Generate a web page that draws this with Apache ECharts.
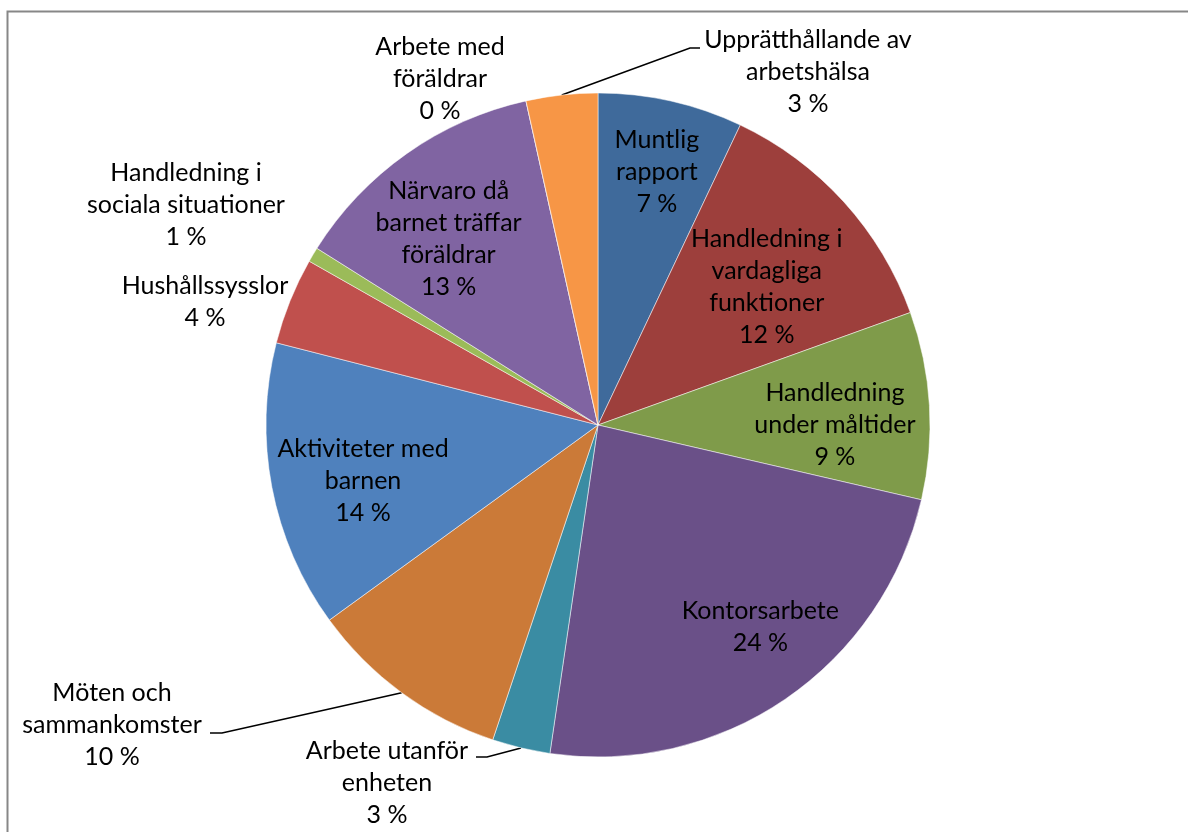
<!DOCTYPE html>
<html>
<head>
<meta charset="utf-8">
<script src="https://cdn.jsdelivr.net/npm/echarts@6/dist/echarts.min.js"></script>
<style>
  html, body { margin: 0; padding: 0; background: #fff; }
  #chart { width: 1188px; height: 832px; }
</style>
</head>
<body>
<div id="chart"></div>
<script>
// kategorier, medurs från klockan 12
const names = [
  "Muntlig rapport",
  "Handledning i vardagliga funktioner",
  "Handledning under måltider",
  "Kontorsarbete",
  "Arbete utanför enheten",
  "Möten och sammankomster",
  "Aktiviteter med barnen",
  "Hushållssysslor",
  "Handledning i sociala situationer",
  "Närvaro då barnet träffar föräldrar",
  "Arbete med föräldrar",
  "Upprätthållande av arbetshälsa"
];
// samma namn med radbrytningar som i etiketterna
const labelText = [
  "Muntlig\nrapport",
  "Handledning i\nvardagliga\nfunktioner",
  "Handledning\nunder måltider",
  "Kontorsarbete",
  "Arbete utanför\nenheten",
  "Möten och\nsammankomster",
  "Aktiviteter med\nbarnen",
  "Hushållssysslor",
  "Handledning i\nsociala situationer",
  "Närvaro då\nbarnet träffar\nföräldrar",
  "Arbete med\nföräldrar",
  "Upprätthållande av\narbetshälsa"
];
// andel i procent (avläst från vinklarna)
const values = [7.05, 12.45, 9.12, 23.7, 2.82, 9.87, 13.98, 4.23, 0.72, 12.59, 0, 3.48];
const colors = [
  "#3f6a9b", "#9d3f3c", "#7f9b4a", "#6a5088", "#3a8ca3", "#cb7a38",
  "#4f81bd", "#c0504d", "#9bbb59", "#8064a2", "#4bacc6", "#f79646"
];
// etikett inne i tårtbiten eller utanför
const inside = [true, true, true, true, false, false, true, false, false, true, false, false];

const R = 332;
const CX = 598, CY = 425;
const font = { fontFamily: "Lato", fontSize: 25, lineHeight: 32, color: "#000" };

// placering av yttre etiketter (mitten av textblocket)
const outsidePos = { 4: [387, 783], 5: [112, 725], 7: [205, 302], 8: [186, 205], 10: [440, 79], 11: [808, 72] };
// hävarmens knäpunkt och slutpunkt
const leader = {
  4: [[487, 757], [476, 757]],
  5: [[222, 733], [210, 733]],
  11: [[690, 48], [700, 48]]
};
// finjustering av inre etiketter (dx, dy)
const innerNudge = { 0: [5, -14], 1: [-13, 27], 2: [-8, 14], 3: [24, -1], 6: [6, 10], 9: [-8, 14] };

let myChart = echarts.init(document.getElementById("chart"));

myChart.setOption({
  animation: false,
  graphic: [{
    type: "rect",
    shape: { x: 7.5, y: 11.5, width: 1300, height: 1000 },
    style: { fill: "none", stroke: "#878787", lineWidth: 2 },
    silent: true
  }],
  series: [
    {
      type: "pie",
      center: [CX, CY],
      radius: R,
      startAngle: 90,
      clockwise: true,
      avoidLabelOverlap: false,
      itemStyle: { borderColor: "#fff", borderWidth: 0.5 },
      label: Object.assign({
        position: "outside",
        formatter: p => labelText[p.dataIndex] + "\n" + Math.round(p.value) + " %",
        align: "center"
      }, font),
      labelLine: { show: true, smooth: false, lineStyle: { color: "#000", width: 1.6 } },
      labelLayout: params => {
        const pos = outsidePos[params.dataIndex];
        if (!pos) return {};
        const out = { x: pos[0], y: pos[1], align: "center", verticalAlign: "middle" };
        const l = leader[params.dataIndex];
        if (l && params.labelLinePoints) {
          out.labelLinePoints = [params.labelLinePoints[0], l[0], l[1]];
        }
        return out;
      },
      data: names.map((n, i) => ({
        name: n,
        value: values[i],
        itemStyle: { color: colors[i] },
        label: { show: !inside[i] },
        labelLine: { show: !!leader[i] }
      }))
    },
    {
      // genomskinlig ring som bara bär de inre etiketterna
      type: "pie",
      center: [CX, CY],
      radius: [R * 0.46, R],
      startAngle: 90,
      clockwise: true,
      silent: true,
      avoidLabelOverlap: false,
      itemStyle: { color: "rgba(0,0,0,0)" },
      label: Object.assign({
        position: "inside",
        formatter: p => labelText[p.dataIndex] + "\n" + Math.round(p.value) + " %",
        align: "center"
      }, font),
      labelLine: { show: false },
      labelLayout: params => {
        const d = innerNudge[params.dataIndex];
        if (!d) return {};
        return { dx: d[0], dy: d[1] };
      },
      data: names.map((n, i) => ({
        name: n,
        value: values[i],
        label: { show: inside[i] }
      }))
    }
  ]
});
</script>
</body>
</html>
